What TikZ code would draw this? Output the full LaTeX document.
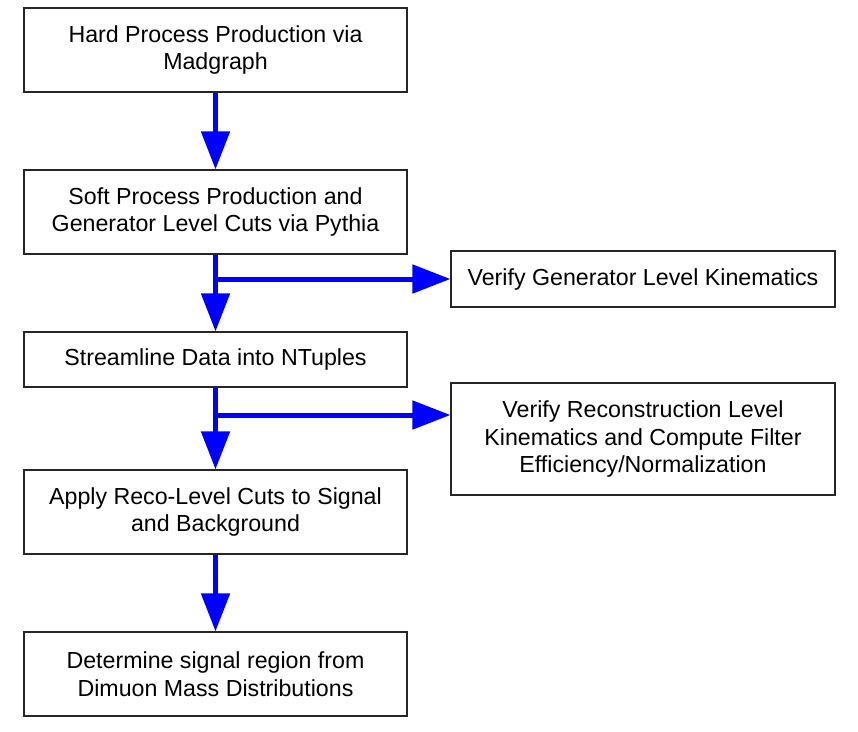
\documentclass[tikz,border=0pt]{standalone}
\usepackage{fontspec}
\setmainfont{Liberation Sans}
\usetikzlibrary{arrows.meta}
\begin{document}
\begin{tikzpicture}[x=1pt,y=-1pt,
        stagebox/.style={draw=black!85,line width=1.2pt,minimum width=383pt,minimum height=84pt,
            align=center,inner sep=0pt,font=\fontsize{23.2}{27.5}\selectfont},
        flow/.style={draw=blue,line width=5pt,-{Triangle[length=38pt,width=28pt]}}]
        \useasboundingbox (0,0) rectangle (858,731);
        \node(hard) at (215.5,50) [stagebox]{Hard Process Production via\\Madgraph};
        \node(soft) at (215.5,212) [stagebox]{Soft Process Production and\\Generator Level Cuts via Pythia};
        \node(gen) at (643,279) [stagebox,minimum width=384pt,minimum height=56pt]{Verify Generator Level Kinematics};
        \node(ntup) at (215.5,359.5) [stagebox,minimum height=55pt]{Streamline Data into NTuples};
        \node(reco) at (643,439) [stagebox,minimum width=384pt,minimum height=112pt]{Verify Reconstruction Level\\Kinematics and Compute Filter\\Efficiency/Normalization};
        \node(cuts) at (215.5,512) [stagebox]{Apply Reco-Level Cuts to Signal\\and Background};
        \node(mass) at (215.5,674) [stagebox]{Determine signal region from\\Dimuon Mass Distributions};

        \draw[flow] (hard) -- (soft);
        \draw[flow] (soft) -- (ntup);
        \draw[flow] (soft.south |- gen.west) -- (gen.west);
        \coordinate(split) at (215.5,415);
        \draw[flow] (ntup) -- (cuts);
        \draw[flow] (split) -- (reco.west |- split);
        \draw[flow] (cuts) -- (mass);
    \end{tikzpicture}
\end{document}
